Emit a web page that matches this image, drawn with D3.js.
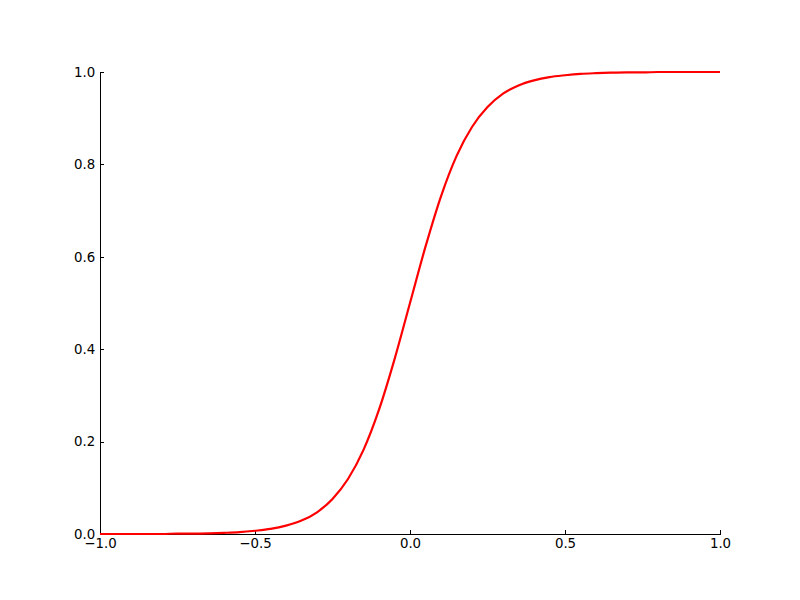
<!DOCTYPE html>
<html>
<head>
<meta charset="utf-8">
<script src="https://cdn.jsdelivr.net/npm/d3@7"></script>
<style>
  body { margin: 0; background: #fff; }
  .axis text { font-family: "DejaVu Sans", sans-serif; font-size: 13.33px; fill: #000; }
  .axis path, .axis line { stroke: #000; stroke-width: 1; shape-rendering: crispEdges; }
</style>
</head>
<body>
<div class="wrapper"></div>
<script>
// values
var xValues = [-1.0, -0.95, -0.9, -0.85, -0.8, -0.75, -0.7, -0.65, -0.6, -0.55,
  -0.5, -0.45, -0.4, -0.35, -0.3, -0.25, -0.2, -0.15, -0.1, -0.05,
  0.0, 0.05, 0.1, 0.15, 0.2, 0.25, 0.3, 0.35, 0.4, 0.45,
  0.5, 0.55, 0.6, 0.65, 0.7, 0.75, 0.8, 0.85, 0.9, 0.95, 1.0];
var yValues = [0.000, 0.000, 0.000, 0.000, 0.000, 0.001, 0.001, 0.0015, 0.0025, 0.004,
  0.007, 0.011, 0.018, 0.029, 0.047, 0.076, 0.119, 0.182, 0.269, 0.378,
  0.500, 0.622, 0.731, 0.818, 0.881, 0.924, 0.953, 0.971, 0.982, 0.989,
  0.993, 0.996, 0.9975, 0.9985, 0.999, 0.999, 1.000, 1.000, 1.000, 1.000, 1.000];
var xTicks = [-1.0, -0.5, 0.0, 0.5, 1.0];
var yTicks = [0.0, 0.2, 0.4, 0.6, 0.8, 1.0];

var width = 800, height = 600;
var margin = { left: 100, right: 80, top: 72, bottom: 66 };

var svg = d3.select(".wrapper").append("svg")
  .attr("width", width)
  .attr("height", height);

var xScale = d3.scaleLinear().domain([-1, 1]).range([margin.left, width - margin.right]);
var yScale = d3.scaleLinear().domain([0, 1]).range([height - margin.bottom, margin.top]);

// inward ticks, matplotlib style
var fmt = function(d) { return d3.format(".1f")(d).replace("-", "\u2212"); };

svg.append("g")
  .attr("class", "axis")
  .attr("transform", `translate(0, ${height - margin.bottom})`)
  .call(d3.axisBottom(xScale).tickValues(xTicks).tickFormat(fmt)
    .tickSizeInner(-4).tickSizeOuter(0).tickPadding(4.7));

svg.append("g")
  .attr("class", "axis")
  .attr("transform", `translate(${margin.left}, 0)`)
  .call(d3.axisLeft(yScale).tickValues(yTicks).tickFormat(fmt)
    .tickSizeInner(-4).tickSizeOuter(0).tickPadding(4.7));

var points = xValues.map((x, i) => [x, yValues[i]]);

var line = d3.line()
  .x(d => xScale(d[0]))
  .y(d => yScale(d[1]))
  .curve(d3.curveMonotoneX);

svg.append("path")
  .datum(points)
  .attr("fill", "none")
  .attr("stroke", "#ff0000")
  .attr("stroke-width", 2.2)
  .attr("d", line);
</script>
</body>
</html>
